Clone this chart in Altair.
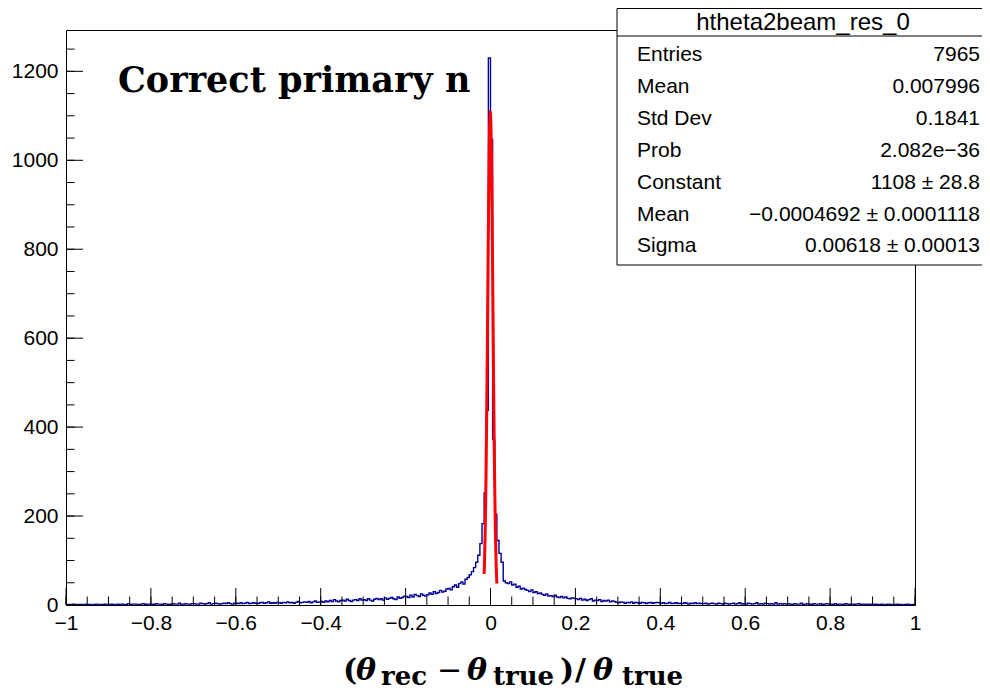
import altair as alt
import numpy as np
import pandas as pd

# ---------------- data ----------------
X_MIN, X_MAX, N_BINS = -1.0, 1.0, 400
Y_MAX = 1293

counts = [
    0,1,0,2,1,0,1,1,0,2,1,1,0,1,2,0,1,1,2,1,
    1,2,1,0,2,1,2,1,1,3,1,2,2,1,0,2,3,1,2,2,
    2,1,3,2,2,1,3,2,1,2,3,2,2,4,1,2,3,2,2,3,
    3,2,2,4,3,2,3,5,2,3,4,3,2,3,4,3,5,3,2,4,
    4,3,5,3,4,6,3,4,5,4,3,5,6,4,5,7,4,5,4,6,
    5,4,6,5,7,5,6,4,6,8,5,6,7,6,8,5,7,9,6,7,
    8,6,9,7,10,8,12,9,7,10,11,9,13,10,8,11,12,10,14,11,
    12,10,14,11,9,13,15,12,14,11,16,13,15,17,14,12,18,15,17,20,
    19,17,22,18,24,21,19,25,22,20,23,27,24,30,26,28,33,29,31,36,
    37,34,41,45,40,48,52,47,58,62,68,75,84,96,112,138,183,252,438,1230,
    1047,372,204,145,116,96,54,50,48,52,45,47,40,42,36,38,35,33,30,34,
    28,30,26,27,24,22,25,20,21,19,22,18,17,19,16,18,15,14,16,15,
    14,12,15,11,13,10,12,14,9,11,10,12,8,10,9,11,7,9,8,6,
    5,7,6,4,6,5,7,4,6,5,4,6,5,3,5,6,4,5,6,5,
    4,5,3,4,6,3,4,5,3,4,3,5,4,2,4,3,5,3,4,3,
    3,4,2,3,4,3,2,4,3,2,4,3,2,3,4,2,3,5,2,3,
    2,4,3,2,3,5,2,3,2,4,3,2,3,2,5,2,3,2,3,2,
    3,2,1,3,2,2,4,1,2,3,2,1,3,2,2,3,1,2,3,2,
    2,1,3,1,2,2,1,3,2,1,2,1,2,3,1,2,1,2,1,2,
    1,2,1,1,2,0,1,2,1,1,0,2,1,1,0,1,2,1,0,1,
]
assert len(counts) == N_BINS

# Gaussian fit (parameters as printed in the stats box)
FIT_CONSTANT = 1108.0
FIT_MEAN = -0.0004692
FIT_SIGMA = 0.00618
FIT_RANGE = (-0.015, 0.015)

x_ticks_major = [-1, -0.8, -0.6, -0.4, -0.2, 0, 0.2, 0.4, 0.6, 0.8, 1]
y_ticks_major = [0, 200, 400, 600, 800, 1000, 1200]

stats_title = "htheta2beam_res_0"
stats_labels = ["Entries", "Mean", "Std Dev", "Prob", "Constant", "Mean", "Sigma"]
stats_values = ["7965", "0.007996", "0.1841", "2.082e\u221236", "1108 \u00b1 28.8",
                "\u22120.0004692 \u00b1 0.0001118", "0.00618 \u00b1 0.00013"]

# ---------------- tables ----------------
edges = np.linspace(X_MIN, X_MAX, N_BINS + 1)
hist_df = pd.DataFrame({"x": edges, "y": counts + [counts[-1]]})

fx = np.linspace(FIT_RANGE[0], FIT_RANGE[1], 101)
fit_df = pd.DataFrame({
    "x": fx,
    "y": FIT_CONSTANT * np.exp(-0.5 * ((fx - FIT_MEAN) / FIT_SIGMA) ** 2),
})

x_minor = [round(X_MIN + 0.05 * i, 3) for i in range(41)]
y_minor = [50 * i for i in range(26)]

W, H = 849, 575
xs = alt.Scale(domain=[X_MIN, X_MAX], nice=False, zero=False)
ys = alt.Scale(domain=[0, Y_MAX], nice=False, zero=False)

SANS = "Liberation Sans"
SERIF = "DejaVu Serif"

AX = alt.Axis(values=x_ticks_major, format="~g", ticks=False, domain=False, grid=False,
              labelFont=SANS, labelFontSize=21, labelColor="black", labelPadding=7,
              labelFlush=False, title=None)
AY = alt.Axis(values=y_ticks_major, format="d", ticks=False, domain=False, grid=False,
              labelFont=SANS, labelFontSize=21, labelColor="black", labelPadding=8,
              title=None)

hist = alt.Chart(hist_df).mark_line(
    interpolate="step-after", color="#000099", strokeWidth=1.4, clip=True
).encode(
    x=alt.X("x:Q", scale=xs, axis=AX),
    y=alt.Y("y:Q", scale=ys, axis=AY),
)

fit = alt.Chart(fit_df).mark_line(color="#ff0000", strokeWidth=3, clip=True).encode(
    x=alt.X("x:Q", scale=xs, axis=AX),
    y=alt.Y("y:Q", scale=ys, axis=AY),
)

def xtick(vals, length):
    return alt.Chart(pd.DataFrame({"v": vals})).mark_rule(color="black", strokeWidth=1).encode(
        x=alt.X("v:Q", scale=xs, axis=AX),
        y=alt.value(H), y2=alt.value(H - length))

def ytick(vals, length):
    return alt.Chart(pd.DataFrame({"v": vals})).mark_rule(color="black", strokeWidth=1).encode(
        y=alt.Y("v:Q", scale=ys, axis=AY),
        x=alt.value(0), x2=alt.value(length))

ticks = [xtick(x_minor, 8.5), xtick(x_ticks_major, 17), ytick(y_minor, 8.5), ytick(y_ticks_major, 17)]

one = pd.DataFrame({"a": [0]})

def txt(text, x, y, size, font=SANS, weight="normal", style="normal", align="left", baseline="alphabetic"):
    return alt.Chart(one).mark_text(
        text=text, font=font, fontSize=size, fontWeight=weight, fontStyle=style,
        align=align, baseline=baseline, color="black"
    ).encode(x=alt.value(x), y=alt.value(y))

# in-plot label
label = txt("Correct primary n", 52, 62, 35, font=SERIF, weight="bold")

# x-axis title pieces
BIG, SUB = 30, 26
yb, ysb = 650, 655
xtitle = [
    txt("(", 277, yb, BIG, SERIF, "bold"),
    txt("\u03b8", 290, yb, BIG, SERIF, "bold", "italic"),
    txt("rec", 315, ysb, SUB, SERIF, "bold"),
    txt("\u2212", 371, yb, BIG, SERIF),
    txt("\u03b8", 401, yb, BIG, SERIF, "bold", "italic"),
    txt("true", 427, ysb, SUB, SERIF, "bold"),
    txt(")", 494, yb, BIG, SERIF, "bold"),
    txt("/", 509, yb, BIG, SERIF, "bold"),
    txt("\u03b8", 527, yb, BIG, SERIF, "bold", "italic"),
    txt("true", 556, ysb, SUB, SERIF, "bold"),
]

# stats box
BX0, BX1, BY0, BY1, BDIV = 551, 923, -21.5, 235, 6
box = alt.Chart(one).mark_rect(fill="white", stroke="black", strokeWidth=1).encode(
    x=alt.value(BX0), x2=alt.value(BX1), y=alt.value(BY0), y2=alt.value(BY1))
divider = alt.Chart(one).mark_rule(color="black", strokeWidth=1).encode(
    x=alt.value(BX0), x2=alt.value(BX1), y=alt.value(BDIV))
stat_texts = [txt(stats_title, 737, -7, 24, align="center", baseline="middle")]
row_y = [25, 57, 89, 121, 153, 185, 216]
for lab, val, ry in zip(stats_labels, stats_values, row_y):
    stat_texts.append(txt(lab, 571, ry, 21, baseline="middle"))
    stat_texts.append(txt(val, 914, ry, 21, align="right", baseline="middle"))

chart = alt.layer(
    hist, fit, *ticks, label, *xtitle, box, divider, *stat_texts
).properties(
    width=W, height=H,
    autosize=alt.AutoSizeParams(type="none"),
    padding={"left": 58, "top": 22, "right": 67, "bottom": 85},
).configure_view(stroke="black", strokeWidth=1)

chart.save("out.html", embed_options={"renderer": "svg", "actions": False})
